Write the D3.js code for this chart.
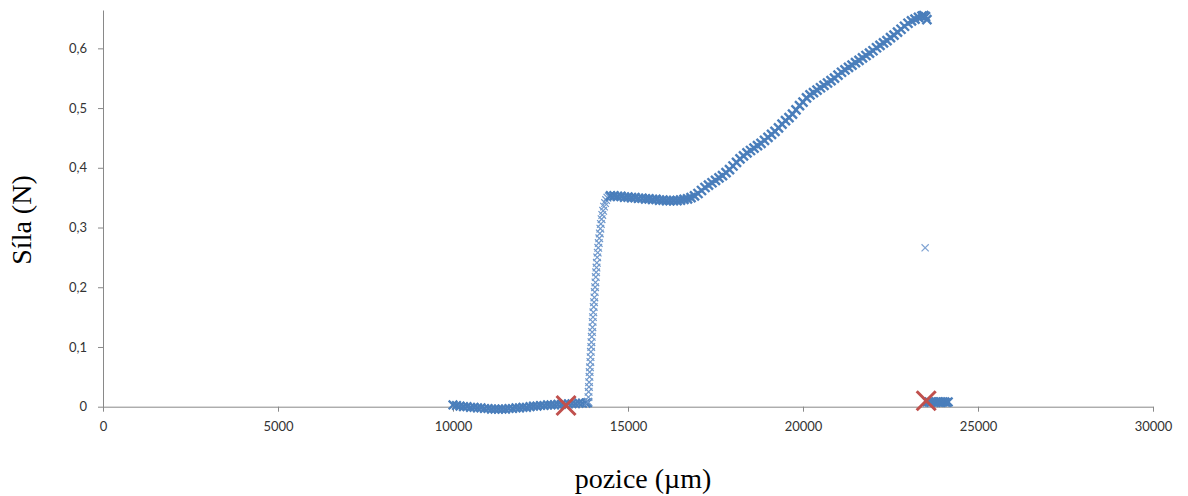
<!DOCTYPE html>
<html>
<head>
<meta charset="utf-8">
<script src="https://cdn.jsdelivr.net/npm/d3@7"></script>
<style>
  body { margin: 0; background: #fff; }
  .tick text { font-family: Lato, "Open Sans", sans-serif; font-size: 13px; fill: #333; }
  .axis-title { font-family: "Liberation Serif", "DejaVu Serif", serif; font-size: 28px; fill: #000; }
</style>
</head>
<body>
<div id="chart"></div>
<script>
// measured series: [position (um), force (N)]
var baseline = [
  [10000, 0.003], [10100, 0.002], [10200, 0.001], [10300, 0.000], [10400, 0.000],
  [10500, -0.001], [10600, -0.001], [10700, -0.002], [10800, -0.002], [10900, -0.003],
  [11000, -0.003], [11100, -0.004], [11200, -0.004], [11300, -0.004], [11400, -0.004],
  [11500, -0.004], [11600, -0.003], [11700, -0.003], [11800, -0.002], [11900, -0.002],
  [12000, -0.001], [12100, -0.001], [12200, 0.000], [12300, 0.001], [12400, 0.001],
  [12500, 0.002], [12600, 0.002], [12700, 0.003], [12800, 0.003], [12900, 0.003],
  [13000, 0.004], [13100, 0.004], [13200, 0.004], [13300, 0.005], [13400, 0.005],
  [13500, 0.005], [13600, 0.006], [13700, 0.006], [13800, 0.006], [13850, 0.007]
]

var rise = [
  [13860, 0.008], [13870, 0.016], [13875, 0.025], [13885, 0.033], [13890, 0.041],
  [13900, 0.050], [13905, 0.058], [13915, 0.066], [13925, 0.075], [13930, 0.083],
  [13940, 0.092], [13950, 0.100], [13955, 0.108], [13965, 0.117], [13975, 0.125],
  [13985, 0.133], [13990, 0.142], [14000, 0.150], [14010, 0.158], [14020, 0.167],
  [14030, 0.175], [14040, 0.183], [14050, 0.192], [14060, 0.200], [14070, 0.208],
  [14080, 0.217], [14090, 0.225], [14100, 0.233], [14110, 0.241], [14120, 0.250],
  [14135, 0.258], [14150, 0.266], [14165, 0.274], [14180, 0.282], [14195, 0.290],
  [14210, 0.298], [14225, 0.306], [14245, 0.314], [14265, 0.321], [14290, 0.328],
  [14315, 0.335], [14345, 0.341], [14375, 0.346], [14410, 0.350], [14450, 0.352],
  [14490, 0.353]
]

var loading = [
  [14500, 0.353], [14600, 0.353], [14700, 0.352], [14800, 0.352], [14900, 0.351],
  [15000, 0.351], [15100, 0.350], [15200, 0.350], [15300, 0.349], [15400, 0.349],
  [15500, 0.348], [15600, 0.348], [15700, 0.347], [15800, 0.347], [15900, 0.346],
  [16000, 0.346], [16100, 0.345], [16200, 0.345], [16300, 0.345], [16400, 0.345],
  [16500, 0.346], [16600, 0.347], [16700, 0.348], [16800, 0.350], [16900, 0.353],
  [17000, 0.357], [17100, 0.362], [17200, 0.367], [17300, 0.371], [17400, 0.375],
  [17500, 0.379], [17600, 0.383], [17700, 0.387], [17800, 0.392], [17900, 0.397],
  [18000, 0.403], [18100, 0.409], [18200, 0.415], [18300, 0.420], [18400, 0.425],
  [18500, 0.429], [18600, 0.433], [18700, 0.437], [18800, 0.441], [18900, 0.446],
  [19000, 0.451], [19100, 0.456], [19200, 0.461], [19300, 0.467], [19400, 0.473],
  [19500, 0.479], [19600, 0.484], [19700, 0.490], [19800, 0.497], [19900, 0.504],
  [20000, 0.510], [20100, 0.517], [20200, 0.522], [20300, 0.526], [20400, 0.530],
  [20500, 0.534], [20600, 0.538], [20700, 0.542], [20800, 0.546], [20900, 0.550],
  [21000, 0.555], [21100, 0.560], [21200, 0.564], [21300, 0.568], [21400, 0.572],
  [21500, 0.576], [21600, 0.580], [21700, 0.584], [21800, 0.588], [21900, 0.592],
  [22000, 0.596], [22100, 0.601], [22200, 0.605], [22300, 0.609], [22400, 0.613],
  [22500, 0.618], [22600, 0.622], [22700, 0.627], [22800, 0.632], [22900, 0.637],
  [23000, 0.642], [23100, 0.646], [23200, 0.649], [23300, 0.652], [23400, 0.654],
  [23450, 0.655], [23500, 0.653], [23540, 0.648]
]

var outlier = [[23490, 0.266]]

var tail = [
  [23550, 0.008], [23600, 0.008], [23650, 0.007], [23700, 0.008], [23750, 0.008],
  [23800, 0.007], [23850, 0.008], [23900, 0.008], [23950, 0.007], [24000, 0.008],
  [24050, 0.008], [24100, 0.007], [24150, 0.008]
]

// red selection markers
var picks = [[13230, 0.002], [23520, 0.010]]

var xTicks = [0, 5000, 10000, 15000, 20000, 25000, 30000]
var yTicks = [0, 0.1, 0.2, 0.3, 0.4, 0.5, 0.6]

var width = 1188, height = 496

var svg = d3.select("#chart")
    .append("svg")
    .attr("width", width)
    .attr("height", height)
    .style("background", "#fff")

var x = d3.scaleLinear()
    .domain([0, 30000])
    .range([103, 1153])

var y = d3.scaleLinear()
    .domain([0, 0.6642])
    .range([406.7, 10])

svg.append("g")
    .attr("transform", "translate(0," + y(0) + ")")
    .call(d3.axisBottom(x).tickValues(xTicks).tickSize(5).tickSizeOuter(0).tickPadding(10).tickFormat(d3.format("d")))

svg.append("g")
    .attr("transform", "translate(" + x(0) + ",0)")
    .call(d3.axisLeft(y).tickValues(yTicks).tickSize(5).tickSizeOuter(0).tickPadding(11)
        .tickFormat(function (d) { return String(d).replace(".", ","); }))

svg.selectAll(".domain, .tick line").attr("stroke", "#898989")

// draws an "x" marker for each point of a segment
function xMarkers(data, s, sw, color) {
    var p = "M" + (-s) + "," + (-s) + "L" + s + "," + s + "M" + (-s) + "," + s + "L" + s + "," + (-s)
    svg.append("g")
        .selectAll("path")
        .data(data)
        .enter()
        .append("path")
        .attr("d", p)
        .attr("transform", function (d) { return "translate(" + x(d[0]) + "," + y(d[1]) + ")" })
        .attr("fill", "none")
        .attr("stroke", color)
        .attr("stroke-width", sw)
}

var blue = "#4A7EBB"
xMarkers(baseline, 4.3, 2.2, blue)
xMarkers(rise, 3.8, 1.2, "#6f98cc")
xMarkers(loading, 4.5, 2.4, blue)
xMarkers(outlier, 3.6, 1.2, "#7fa3d3")
xMarkers(tail, 4.3, 2.2, blue)

xMarkers(picks, 9.5, 3, "#C0504D")

svg.append("text")
    .attr("class", "axis-title")
    .attr("text-anchor", "middle")
    .attr("x", 643)
    .attr("y", 488)
    .text("pozice (µm)")

svg.append("text")
    .attr("class", "axis-title")
    .attr("text-anchor", "middle")
    .attr("transform", "translate(31,220) rotate(-90)")
    .text("Síla (N)")
</script>
</body>
</html>
